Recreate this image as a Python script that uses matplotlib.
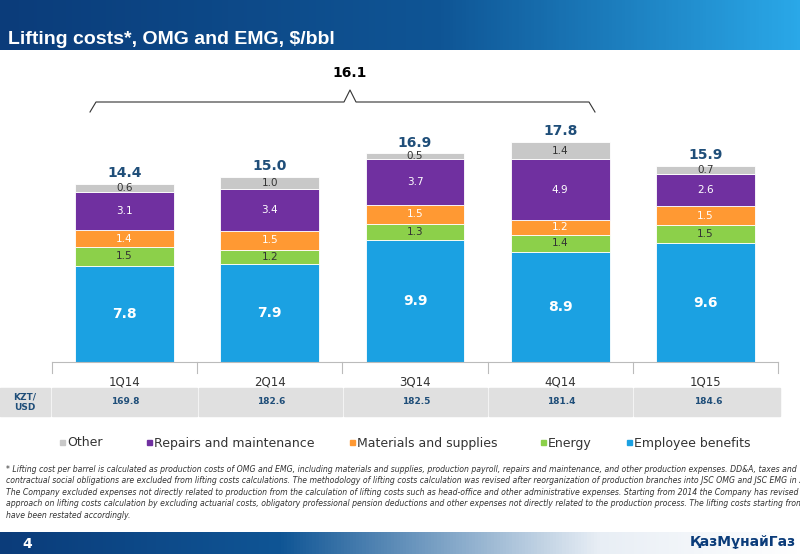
import matplotlib
matplotlib.use("Agg")
import matplotlib.pyplot as plt
import numpy as np
from matplotlib.patches import Rectangle

quarters = ["1Q14", "2Q14", "3Q14", "4Q14", "1Q15"]
employee = [7.8, 7.9, 9.9, 8.9, 9.6]
energy = [1.5, 1.2, 1.3, 1.4, 1.5]
materials = [1.4, 1.5, 1.5, 1.2, 1.5]
repairs = [3.1, 3.4, 3.7, 4.9, 2.6]
other = [0.6, 1.0, 0.5, 1.4, 0.7]
totals = [14.4, 15.0, 16.9, 17.8, 15.9]
kzt_usd = ["169.8", "182.6", "182.5", "181.4", "184.6"]
series_names = ["Employee benefits", "Energy", "Materials and supplies", "Repairs and maintenance", "Other"]
colors = ["#1BA1E2", "#8CD04A", "#FF9933", "#7030A0", "#C8C8C8"]
avg_label = "16.1"

W, H = 800, 554
fig = plt.figure(figsize=(8, 5.54), dpi=100)
fig.patch.set_facecolor("white")

def fx(x): return x / W
def fy(y): return 1 - y / H

grad = np.linspace(0, 1, 256)
# header gradient
hax = fig.add_axes([0, fy(50), 1, 50 / H])
r = np.interp(grad, [0, 0.55, 1], [0x0B, 0x0F, 0x2A])
g = np.interp(grad, [0, 0.55, 1], [0x3C, 0x55, 0xA8])
b = np.interp(grad, [0, 0.55, 1], [0x7A, 0x95, 0xE8])
hax.imshow(np.dstack([r, g, b]) / 255, aspect="auto", extent=[0, 1, 0, 1])
hax.axis("off")
fig.text(fx(8), fy(40), "Lifting costs*, OMG and EMG, $/bbl", color="white", fontsize=14, fontweight="bold", va="center", family="Liberation Sans")

# footer gradient
fax = fig.add_axes([0, 0, 1, 22 / H])
r2 = np.interp(grad, [0, 0.35, 0.75, 1], [0x0B, 0x0F, 0xE8, 0xFF])
g2 = np.interp(grad, [0, 0.35, 0.75, 1], [0x3C, 0x55, 0xEE, 0xFF])
b2 = np.interp(grad, [0, 0.35, 0.75, 1], [0x7A, 0x95, 0xF5, 0xFF])
fax.imshow(np.dstack([r2, g2, b2]) / 255, aspect="auto", extent=[0, 1, 0, 1])
fax.axis("off")
fig.text(fx(22), fy(544), "4", color="white", fontsize=10, fontweight="bold", va="center")
fig.text(fx(690), fy(542), "ҚазМұнайГаз", color="#0B3C7A", fontsize=10, fontweight="bold", va="center")

# main chart
ax = fig.add_axes([fx(52), fy(362), fx(778 - 52), 247 / H])
x = np.arange(len(quarters))
bottom = np.zeros(len(quarters))
data = [employee, energy, materials, repairs, other]
for i, (vals, c) in enumerate(zip(data, colors)):
    ax.bar(x, vals, bottom=bottom, width=0.68, color=c, edgecolor="white", linewidth=0.6)
    for xi, v, b0 in zip(x, vals, bottom):
        if i == 0:
            ax.text(xi, b0 + v / 2, f"{v}", ha="center", va="center", color="white", fontsize=10, fontweight="bold")
        else:
            tc = "#333333" if i in (1, 4) else "white"
            ax.text(xi, b0 + v / 2, f"{v}", ha="center", va="center", color=tc, fontsize=7.5)
    bottom += np.array(vals)
for xi, t, b0 in zip(x, totals, bottom):
    ax.text(xi, b0 + 0.3, f"{t}", ha="center", va="bottom", color="#1F4E79", fontsize=10, fontweight="bold")
ax.set_xlim(-0.5, len(quarters) - 0.5)
ax.set_ylim(0, 20)
ax.set_yticks([])
ax.set_xticks(x)
ax.set_xticklabels(quarters, fontsize=8.5, color="#333333")
ax.tick_params(axis="x", length=0, pad=10)
for s in ["top", "right", "left"]:
    ax.spines[s].set_visible(False)
ax.spines["bottom"].set_color("#BBBBBB")
for xi in np.arange(-0.5, len(quarters), 1):
    ax.plot([xi, xi], [0, -0.9], color="#BBBBBB", lw=0.8, clip_on=False)

# overlay for annotations
bax = fig.add_axes([0, 0, 1, 1], facecolor="none")
bax.set_xlim(0, W); bax.set_ylim(H, 0); bax.axis("off")
xl = 90; xr = 595; xm = 350; yb = 100
pts_x = [xl, xl + 6, xm - 6, xm, xm + 6, xr - 6, xr]
pts_y = [yb + 12, yb + 2, yb + 2, yb - 10, yb + 2, yb + 2, yb + 12]
bax.plot(pts_x, pts_y, color="#333333", lw=0.8)
bax.text(xm, 73, avg_label, ha="center", va="center", fontsize=10, fontweight="bold", color="black")

# table row
bax.add_patch(Rectangle((0, 388), 50, 28, color="#E0E0E0"))
bax.text(25, 402, "KZT/\nUSD", ha="center", va="center", fontsize=6.5, fontweight="bold", color="#1F4E79")
edges = [52, 199, 344, 489, 634, 782]
for i, v in enumerate(kzt_usd):
    bax.add_patch(Rectangle((edges[i], 388), edges[i + 1] - edges[i] - 2, 28, color="#E0E0E0"))
    bax.text((edges[i] + edges[i + 1]) / 2, 402, v, ha="center", va="center", fontsize=6.5, fontweight="bold", color="#1F4E79")

# legend
leg_x = [60, 147, 350, 541, 627]
order = [4, 3, 2, 1, 0]
for lx, idx in zip(leg_x, order):
    bax.add_patch(Rectangle((lx, 440), 5, 5, color=colors[idx]))
    bax.text(lx + 7, 443, series_names[idx], ha="left", va="center", fontsize=9, color="#333333")

foot = ("* Lifting cost per barrel is calculated as production costs of OMG and EMG, including materials and supplies, production payroll, repairs and maintenance, and other production expenses. DD&A, taxes and\n"
        "contractual social obligations are excluded from lifting costs calculations. The methodology of lifting costs calculation was revised after reorganization of production branches into JSC OMG and JSC EMG in 2012.\n"
        "The Company excluded expenses not directly related to production from the calculation of lifting costs such as head-office and other administrative expenses. Starting from 2014 the Company has revised its\n"
        "approach on lifting costs calculation by excluding actuarial costs, obligatory professional pension deductions and other expenses not directly related to the production process. The lifting costs starting from 1Q2014\n"
        "have been restated accordingly.")
bax.text(6, 465, foot, ha="left", va="top", fontsize=5.6, style="italic", color="#333333", linespacing=1.35, family="Liberation Sans Narrow")

fig.savefig("out.png", dpi=100)
